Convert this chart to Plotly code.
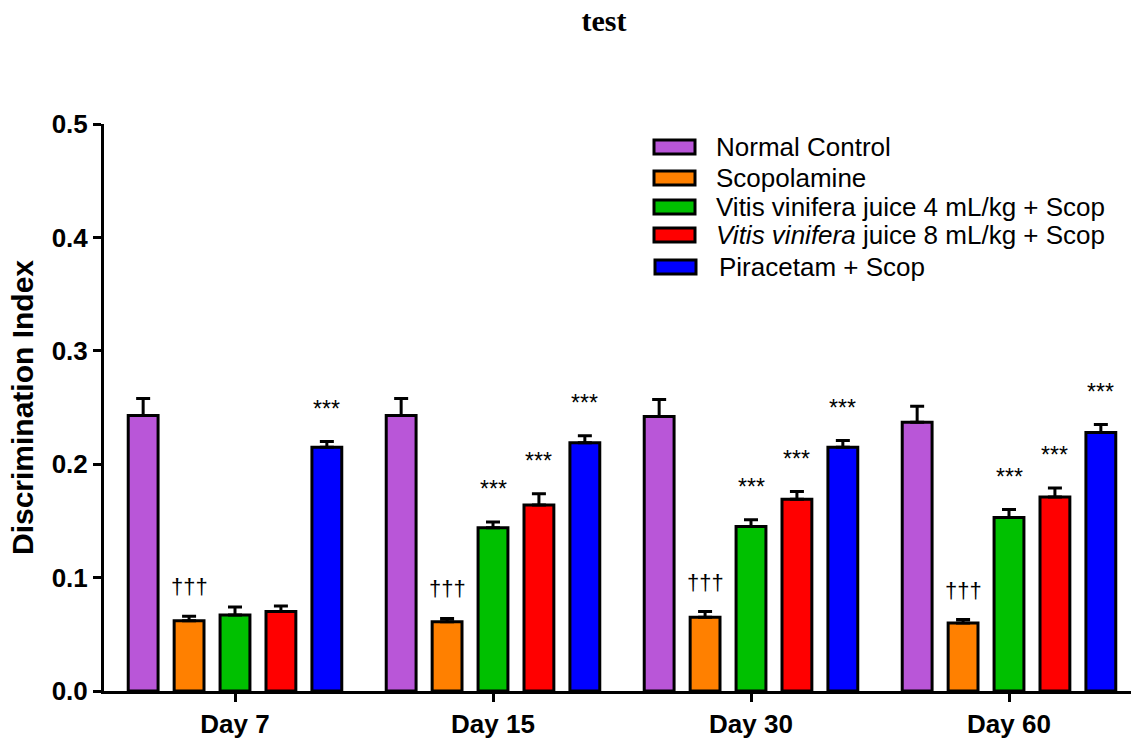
import plotly.graph_objects as go

days = ["Day 7", "Day 15", "Day 30", "Day 60"]
groups = [
    "Normal Control",
    "Scopolamine",
    "Vitis vinifera juice 4 mL/kg + Scop",
    "<i>Vitis vinifera</i> juice 8 mL/kg + Scop",
    "Piracetam + Scop",
]
colors = ["#B956D8", "#FF8000", "#00C000", "#FF0000", "#0000FF"]

normal_control = [0.243, 0.243, 0.242, 0.237]
scopolamine = [0.062, 0.061, 0.065, 0.060]
vv_4 = [0.067, 0.144, 0.145, 0.153]
vv_8 = [0.070, 0.164, 0.169, 0.171]
piracetam = [0.215, 0.219, 0.215, 0.228]

normal_control_sem = [0.015, 0.015, 0.015, 0.014]
scopolamine_sem = [0.004, 0.003, 0.005, 0.003]
vv_4_sem = [0.007, 0.005, 0.006, 0.007]
vv_8_sem = [0.005, 0.010, 0.007, 0.008]
piracetam_sem = [0.005, 0.006, 0.006, 0.007]

normal_control_sig = ["", "", "", ""]
scopolamine_sig = ["†††", "†††", "†††", "†††"]
vv_4_sig = ["", "***", "***", "***"]
vv_8_sig = ["", "***", "***", "***"]
piracetam_sig = ["***", "***", "***", "***"]

series = [normal_control, scopolamine, vv_4, vv_8, piracetam]
sems = [normal_control_sem, scopolamine_sem, vv_4_sem, vv_8_sem, piracetam_sem]
sigs = [normal_control_sig, scopolamine_sig, vv_4_sig, vv_8_sig, piracetam_sig]

FONT = "Liberation Sans, Arial, sans-serif"

fig = go.Figure()
for name, vals, err, col, sig in zip(groups, series, sems, colors, sigs):
    fig.add_trace(go.Bar(
        x=days, y=vals, name=name,
        marker=dict(color=col, line=dict(color="black", width=3)),
        error_y=dict(type="data", array=err, arrayminus=[0] * len(err),
                     symmetric=False, color="black", thickness=3, width=7),
        showlegend=False,
    ))

# significance markers above error bars
n = len(groups)
bargap = 0.11
slot = (1 - bargap) / n
for gi, (vals, err, sig) in enumerate(zip(series, sems, sigs)):
    for di, d in enumerate(days):
        if sig[di]:
            is_dag = sig[di].startswith("†")
            fig.add_annotation(
                x=di - (1 - bargap) / 2 + slot * (gi + 0.5), xref="x",
                y=vals[di] + err[di] + (0.026 if is_dag else 0.029), yref="y",
                text=sig[di], showarrow=False, yanchor="middle",
                font=dict(family=FONT, size=22 if is_dag else 23, color="black"),
            )

# manual legend
L, R, T, B = 104, 1131, 124, 691
def px(x):
    return (x - L) / (R - L)
def py(y):
    return (B - y) / (B - T)

rows = [147, 178, 207, 235, 267]
for i, (name, col) in enumerate(zip(groups, colors)):
    xs = 655 if i == 4 else 654
    fig.add_shape(type="rect", xref="paper", yref="paper",
                  x0=px(xs), x1=px(xs + 41), y0=py(rows[i] + 7), y1=py(rows[i] - 7),
                  fillcolor=col, line=dict(color="black", width=3))
    fig.add_annotation(xref="paper", yref="paper", x=px(714 if i < 4 else 717), y=py(rows[i]),
                       text=name, showarrow=False, xanchor="left", yanchor="middle",
                       font=dict(family=FONT, size=26, color="black"))

# category spacing ~258 px, first category centred at x=235 px
x_lo = -(235 - L) / 258
x_hi = x_lo + (R - L) / 258

fig.update_layout(
    width=1133, height=741,
    margin=dict(l=L, r=1133 - R, t=T, b=741 - B),
    plot_bgcolor="white", paper_bgcolor="white",
    barmode="group", bargap=bargap, bargroupgap=0.35,
    showlegend=False,
    title=dict(text="<b>test</b>", x=604 / 1133, xref="container", xanchor="center",
               y=1 - 20 / 741, yref="container", yanchor="middle",
               font=dict(family="Liberation Serif, Times New Roman, serif", size=30, color="black")),
    xaxis=dict(range=[x_lo, x_hi], showline=True, linecolor="black", linewidth=3, ticks="outside",
               ticklen=8, tickwidth=3, tickcolor="black",
               tickfont=dict(family=FONT, size=26, color="black", weight="bold"),
               showgrid=False, zeroline=False),
    yaxis=dict(range=[0, 0.5], dtick=0.1, tickformat=".1f",
               showline=True, linecolor="black", linewidth=3, ticks="outside",
               ticklen=8, tickwidth=3, tickcolor="black",
               tickfont=dict(family=FONT, size=26, color="black", weight="bold"),
               showgrid=False, zeroline=False,
               title=dict(text="Discrimination Index", standoff=10,
                          font=dict(family=FONT, size=30, color="black", weight="bold"))),
)

fig.write_html("out.html", config={"displayModeBar": False},
               post_script="document.body.style.margin='0px';")
